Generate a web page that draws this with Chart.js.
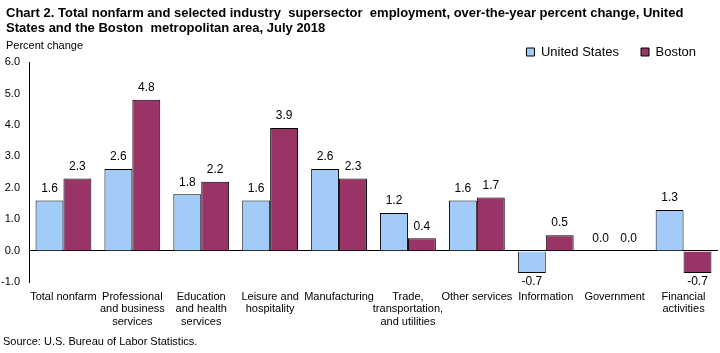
<!DOCTYPE html>
<html>
<head>
<meta charset="utf-8">
<script src="https://cdn.jsdelivr.net/npm/chart.js@4/dist/chart.umd.min.js"></script>
<style>
  html, body { margin: 0; padding: 0; background: #fff; }
  #wrap { width: 720px; height: 353px; position: relative; }
</style>
</head>
<body>
<div id="wrap"><canvas id="myChart"></canvas></div>
<script>
const categories = [
    ['Total nonfarm'],
    ['Professional', 'and business', 'services'],
    ['Education', 'and health', 'services'],
    ['Leisure and', 'hospitality'],
    ['Manufacturing'],
    ['Trade,', 'transportation,', 'and utilities'],
    ['Other services'],
    ['Information'],
    ['Government'],
    ['Financial', 'activities']
];
const usValues = [1.6, 2.6, 1.8, 1.6, 2.6, 1.2, 1.6, -0.7, 0.0, 1.3];
const bostonValues = [2.3, 4.8, 2.2, 3.9, 2.3, 0.4, 1.7, 0.5, 0.0, -0.7];
const titleLines = [
    'Chart 2. Total nonfarm and selected industry  supersector  employment, over-the-year percent change, United',
    'States and the Boston  metropolitan area, July 2018'
];
const yAxisLabel = 'Percent change';
const sourceNote = 'Source: U.S. Bureau of Labor Statistics.';

const FONT = 'Arial, "Liberation Sans", sans-serif';

document.addEventListener("DOMContentLoaded", function() {
    // title, value labels above (or below) each bar, and the loose texts
    const extras = {
        id: 'extras',
        afterDatasetsDraw(chart) {
            const ctx = chart.ctx;
            ctx.save();
            ctx.fillStyle = '#000';
            ctx.font = '12px ' + FONT;
            ctx.textAlign = 'center';
            chart.data.datasets.forEach(function(ds, i) {
                chart.getDatasetMeta(i).data.forEach(function(bar, j) {
                    const v = ds.data[j];
                    if (v < 0) {
                        ctx.textBaseline = 'top';
                        ctx.fillText(v.toFixed(1), bar.x, bar.y + 3);
                    } else {
                        ctx.textBaseline = 'bottom';
                        ctx.fillText(v.toFixed(1), bar.x, bar.y - 6);
                    }
                });
            });

            ctx.textAlign = 'left';
            ctx.textBaseline = 'middle';
            ctx.font = 'bold 13px ' + FONT;
            ctx.fillText(titleLines[0], 6, 13);
            ctx.fillText(titleLines[1], 6, 28.5);

            ctx.font = '11px ' + FONT;
            ctx.fillText(yAxisLabel, 6, 46);
            ctx.fillText(sourceNote, 3, 342);
            ctx.restore();
        }
    };

    const data = {
        labels: categories,
        datasets: [{
            label: 'United States',
            data: usValues,
            backgroundColor: '#A3CBF7',
            borderColor: '#000',
            borderWidth: 1
        }, {
            label: 'Boston',
            data: bostonValues,
            backgroundColor: '#983566',
            borderColor: '#000',
            borderWidth: 1
        }]
    };

    const options = {
        responsive: false,
        animation: false,
        layout: { padding: { left: 1, right: 2, top: 23.5, bottom: 25 } },
        datasets: {
            bar: { categoryPercentage: 0.81, barPercentage: 1.0 }
        },
        plugins: {
            title: { display: false },
            legend: {
                position: 'top',
                align: 'end',
                maxHeight: 38.5,
                labels: {
                    color: '#000',
                    font: { family: FONT, size: 13 },
                    boxWidth: 8,
                    boxHeight: 8,
                    padding: 22
                }
            },
            tooltip: { enabled: false }
        },
        scales: {
            x: {
                grid: { display: false },
                border: { display: false },
                ticks: {
                    color: '#000',
                    font: { family: FONT, size: 11, lineHeight: 1.14 },
                    maxRotation: 0,
                    autoSkip: false,
                    padding: 0
                }
            },
            y: {
                min: -1,
                max: 6,
                afterFit: function(scale) { scale.width = 28; },
                grid: {
                    drawTicks: false,
                    color: function(c) { return c.tick && c.tick.value === 0 ? '#000' : 'rgba(0,0,0,0)'; }
                },
                border: { display: true, color: '#000' },
                ticks: {
                    stepSize: 1,
                    color: '#000',
                    font: { family: FONT, size: 11 },
                    padding: 9,
                    callback: function(v) { return v.toFixed(1); }
                }
            }
        }
    };

    const ctx = document.getElementById('myChart');
    ctx.width = 720;
    ctx.height = 353;
    new Chart(ctx, {
        type: 'bar',
        data: data,
        options: options,
        plugins: [extras]
    });
});
</script>
</body>
</html>
